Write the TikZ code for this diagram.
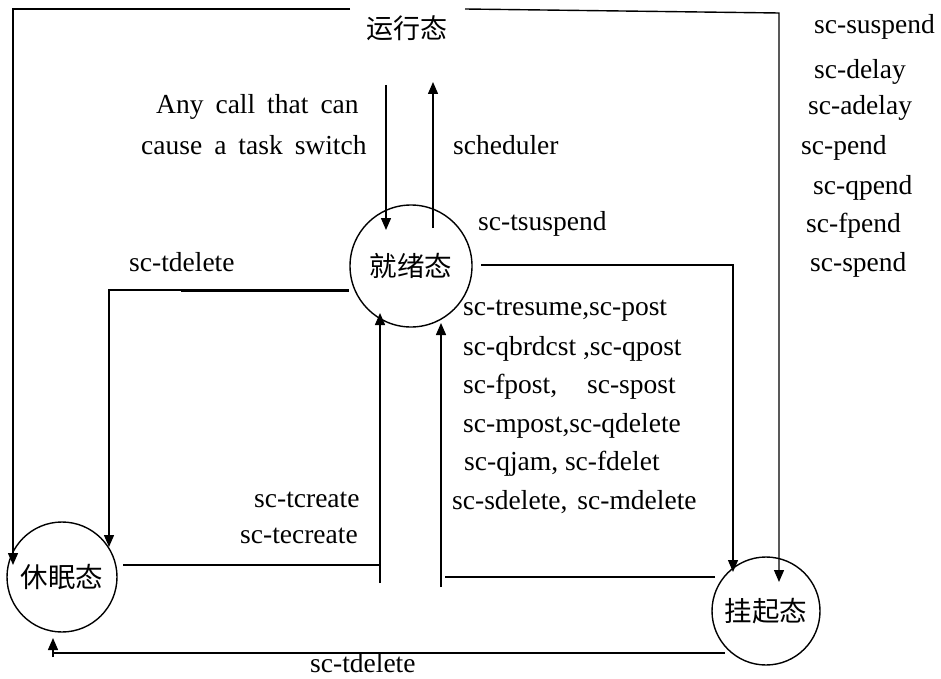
\documentclass[tikz,border=0pt]{standalone}
\usepackage{fontspec}
\setmainfont{Liberation Serif}
\newfontfamily\cjkfont{Noto Sans CJK SC}
\usetikzlibrary{arrows.meta}
\newcommand{\ws}{\hspace{12pt}}
\tikzset{
  lbl/.style={inner sep=0pt, anchor=base west, font=\fontsize{27.5}{33}\selectfont},
  cjklbl/.style={inner sep=0pt, font=\cjkfont\fontsize{27}{32}\selectfont},
  statecirc/.style={draw, circle, line width=1.4pt, inner sep=0pt, font=\cjkfont\fontsize{27.5}{32}\selectfont},
  conn/.style={line width=1.4pt},
  arr/.style={conn, -{Triangle[length=12pt,width=10pt]}}
}
\begin{document}
\begin{tikzpicture}[x=1pt,y=-1pt]
\path[use as bounding box] (0,0) rectangle (941,679);
% states
\node[cjklbl] (run) at (407,28) {运行态};
\node[statecirc, minimum size=122pt] (ready) at (411,266) {就绪态};
\node[statecirc, minimum size=110pt] (sleep) at (62,577) {休眠态};
\node[statecirc, minimum size=108pt] (susp) at (766,611) {挂起态};
% connector end points
\coordinate (rL) at (350,9);
\coordinate (rLc) at (13,9);
\coordinate (sTop) at (13,565);
\coordinate (rR) at (465,9);
\coordinate (rRc) at (779,13);
\coordinate (pTop) at (779,582);
\coordinate (ac1) at (386,85);
\coordinate (ac2) at (386,230);
\coordinate (sc1) at (433,228);
\coordinate (sc2) at (433,82);
\coordinate (rdL) at (349,290);
\coordinate (rdLc) at (109,290);
\coordinate (sRt) at (109,547);
\coordinate (slR) at (123,565);
\coordinate (crC) at (380,565);
\coordinate (crB) at (380,583);
\coordinate (crT) at (380,313);
\coordinate (spL) at (715,577);
\coordinate (rsE) at (445,577);
\coordinate (rsB) at (441,587);
\coordinate (rsT) at (441,323);
\coordinate (rdR) at (481,265);
\coordinate (rdRc) at (733,265);
\coordinate (pIn) at (733,572);
\coordinate (pB) at (725,653);
\coordinate (bC) at (53,653);
\coordinate (bS) at (53,657);
\coordinate (bT) at (53,638);
% connectors
\draw[arr] (rL) -- (rLc) -- (sTop);
\draw[arr] (rR) -- (rRc) -- (pTop);
\draw[arr] (ac1) -- (ac2);
\draw[arr] (sc1) -- (sc2);
\draw[arr] (rdL) -- (rdLc) -- (sRt);
\draw[line width=3pt] (181,290) -- (rdL);
\draw[conn] (slR) -- (crC);
\draw[arr] (crB) -- (crT);
\draw[conn] (spL) -- (rsE);
\draw[arr] (rsB) -- (rsT);
\draw[arr] (rdR) -- (rdRc) -- (pIn);
\draw[conn] (pB) -- (bC);
\draw[arr] (bS) -- (bT);
% labels
\node[lbl] (l1) at (156,114) {Any\ws call\ws that\ws can};
\node[lbl] (l2) at (141,155) {cause\ws a\ws task\ws switch};
\node[lbl] (l3) at (453,155) {scheduler};
\node[lbl] (l4) at (478,230) {sc-tsuspend};
\node[lbl] (l5) at (129,271) {sc-tdelete};
\node[lbl] (r1) at (814,34) {sc-suspend};
\node[lbl] (r2) at (814,79) {sc-delay};
\node[lbl] (r3) at (808,115) {sc-adelay};
\node[lbl] (r4) at (801,155) {sc-pend};
\node[lbl] (r5) at (813,194) {sc-qpend};
\node[lbl] (r6) at (806,232) {sc-fpend};
\node[lbl] (r7) at (810,271) {sc-spend};
\node[lbl] (m1) at (463,315) {sc-tresume,sc-post};
\node[lbl] (m2) at (463,355) {sc-qbrdcst ,sc-qpost};
\node[lbl] (m3) at (463,393) {sc-fpost,\hspace{30pt}sc-spost};
\node[lbl] (m4) at (463,432) {sc-mpost,sc-qdelete};
\node[lbl] (m5) at (464,470) {sc-qjam, sc-fdelet};
\node[lbl] (m6) at (452,509) {sc-sdelete,\hspace{10pt}sc-mdelete};
\node[lbl] (c1) at (254,507) {sc-tcreate};
\node[lbl] (c2) at (240,543) {sc-tecreate};
\node[lbl] (b1) at (310,672) {sc-tdelete};
\end{tikzpicture}
\end{document}
